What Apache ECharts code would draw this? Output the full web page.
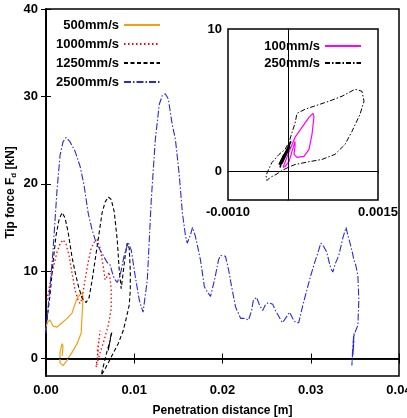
<!DOCTYPE html>
<html><head><meta charset="utf-8">
<script src="https://cdn.jsdelivr.net/npm/echarts@6/dist/echarts.min.js"></script>
<style>html,body{margin:0;padding:0;background:#fff}#c{width:407px;height:418px}</style>
</head><body><div id="c"></div>
<script>
// Tick values
const xTicks = [0, 0.01, 0.02, 0.03, 0.04];
const yTicks = [0, 10, 20, 30, 40];
const insetXTicks = [-0.001, 0.0015];
const insetYTicks = [0, 10];

// Main plot series: [penetration distance (m), tip force (kN)]
const s500 = [[0.00000,3.2],[0.00011,4.1],[0.00045,4.4],[0.00080,3.7],[0.00125,3.6],[0.00182,4.1],[0.00239,4.6],[0.00295,5.2],[0.00330,6.3],[0.00364,7.1],[0.00409,7.5],[0.00420,7.0],[0.00409,4.9],[0.00398,2.9],[0.00352,1.7],[0.00295,0.7],[0.00239,-0.2],[0.00193,-0.8],[0.00159,-0.5],[0.00159,0.7],[0.00182,1.7],[0.00193,1.4],[0.00182,0.3]];

const s1000 = [[0.00011,6.7],[0.00045,8.6],[0.00080,10.3],[0.00125,12.2],[0.00159,13.1],[0.00193,13.6],[0.00227,13.1],[0.00261,11.8],[0.00295,9.8],[0.00330,7.8],[0.00364,6.7],[0.00386,6.3],[0.00409,6.9],[0.00443,9.0],[0.00477,11.0],[0.00511,12.6],[0.00545,13.3],[0.00580,13.6],[0.00614,12.6],[0.00648,10.6],[0.00670,9.0],[0.00693,9.4],[0.00716,9.9],[0.00739,8.0],[0.00739,5.7],[0.00705,3.8],[0.00659,2.1],[0.00614,0.7],[0.00580,-0.5],[0.00568,-1.0],[0.00591,0.9],[0.00580,0.0],[0.00602,2.3],[0.00580,0.7],[0.00614,3.2]];

const s1250 = [[0.00011,4.4],[0.00045,7.2],[0.00080,11.0],[0.00114,14.1],[0.00148,15.9],[0.00182,16.7],[0.00216,16.1],[0.00250,14.5],[0.00295,11.6],[0.00330,9.9],[0.00364,8.4],[0.00409,6.9],[0.00455,6.4],[0.00489,7.0],[0.00523,9.0],[0.00557,11.3],[0.00591,13.6],[0.00636,16.7],[0.00670,17.9],[0.00705,18.5],[0.00739,18.2],[0.00773,16.8],[0.00807,13.6],[0.00830,10.1],[0.00852,8.0],[0.00875,9.9],[0.00898,11.8],[0.00920,13.2],[0.00943,12.6],[0.00955,10.1],[0.00955,7.8],[0.00943,6.1],[0.00909,4.6],[0.00875,3.2],[0.00818,1.7],[0.00761,0.6],[0.00705,-0.5],[0.00659,-1.4],[0.00625,-1.9],[0.00659,-0.5],[0.00693,0.9],[0.00727,2.1],[0.00705,0.9],[0.00739,2.9],[0.00716,1.5],[0.00750,3.2]];

const s2500 = [[0.00000,2.9],[0.00011,4.4],[0.00045,8.2],[0.00080,12.4],[0.00125,19.3],[0.00160,23.3],[0.00193,24.8],[0.00227,25.3],[0.00273,24.8],[0.00330,23.7],[0.00386,22.0],[0.00430,19.9],[0.00477,16.7],[0.00523,14.7],[0.00557,13.6],[0.00614,12.4],[0.00648,11.8],[0.00693,11.0],[0.00727,10.7],[0.00760,9.5],[0.00784,9.0],[0.00807,8.7],[0.00840,9.5],[0.00886,11.8],[0.00932,13.3],[0.00966,12.4],[0.01010,9.5],[0.01057,6.7],[0.01100,5.3],[0.01148,9.0],[0.01193,18.2],[0.01239,25.1],[0.01284,29.1],[0.01318,30.1],[0.01352,30.3],[0.01386,29.7],[0.01430,26.8],[0.01466,25.1],[0.01510,21.0],[0.01545,16.7],[0.01580,14.1],[0.01600,13.2],[0.01636,14.1],[0.01660,15.0],[0.01690,14.1],[0.01727,12.4],[0.01750,11.3],[0.01795,8.2],[0.01830,7.6],[0.01864,7.1],[0.01910,9.0],[0.01955,11.3],[0.01977,11.8],[0.02034,11.7],[0.02070,10.1],[0.02100,8.4],[0.02148,5.9],[0.02205,4.6],[0.02250,4.6],[0.02295,4.4],[0.02330,5.5],[0.02350,6.7],[0.02386,7.0],[0.02420,6.1],[0.02455,5.5],[0.02490,6.2],[0.02520,6.4],[0.02570,6.2],[0.02600,5.5],[0.02650,4.6],[0.02680,4.1],[0.02727,4.8],[0.02760,5.3],[0.02795,4.6],[0.02830,4.1],[0.02864,4.1],[0.02910,6.1],[0.02955,7.8],[0.03000,9.5],[0.03045,11.0],[0.03090,12.4],[0.03114,13.2],[0.03148,12.8],[0.03180,12.2],[0.03227,10.3],[0.03250,9.9],[0.03284,11.0],[0.03318,11.8],[0.03364,13.8],[0.03400,15.0],[0.03420,14.1],[0.03443,13.3],[0.03466,12.4],[0.03489,11.3],[0.03510,10.7],[0.03534,9.5],[0.03545,6.7],[0.03534,3.8],[0.03510,3.2],[0.03490,2.6],[0.03477,0.9],[0.03466,-0.8],[0.03477,1.5],[0.03490,2.9],[0.03477,0.3],[0.03490,2.1]];

// Inset series
const s100 = [[-0.000083,0.28],[-0.000067,0.35],[0.000033,1.55],[0.000117,2.39],[0.000233,3.1],[0.00035,3.8],[0.000417,4.08],[0.000433,3.87],[0.0004,2.6],[0.00035,1.55],[0.000267,1.06],[0.00015,0.99],[0.0001,1.2],[0.000117,1.76],[0.000117,2.11],[0.000067,1.41],[0.000017,0.7],[-0.00005,0.35],[-0.000083,0.28]];
const s250 = [[0,0.28],[-0.0001,0.07],[-0.0002,-0.21],[-0.0003,-0.42],[-0.00035,-0.63],[-0.000367,-0.28],[-0.000317,0.21],[-0.000267,0.63],[-0.00015,1.2],[-0.00005,1.55],[0.000017,2.04],[0.000067,2.75],[0.000117,3.38],[0.00015,4.08],[0.000283,4.37],[0.000433,4.58],[0.000683,4.93],[0.0009,5.28],[0.001117,5.77],[0.001233,5.63],[0.001267,4.93],[0.0012,4.01],[0.001067,2.82],[0.00095,1.9],[0.000783,1.2],[0.000567,0.85],[0.000283,0.63],[0.000117,0.49],[0,0.28]];
const s250dense = [[-0.000133,0.28],[-0.000067,1.2],[-0.00015,0.49],[-0.000017,1.55],[-0.000117,0.7],[0.00005,2.11],[-0.00005,1.2],[0.000033,1.76],[-0.0001,0.56],[0.000017,1.9]];

const FONT = 'Liberation Sans';
const lbl = {color:'#000', fontFamily:FONT, fontWeight:'bold', fontSize:13};
const axLine = {show:true, lineStyle:{color:'#000', width:1.5}};

function line(name, data, color, type, xi, yi, width){
  return {name, type:'line', data, xAxisIndex:xi, yAxisIndex:yi, symbol:'none', showSymbol:false,
    smooth:false, animation:false, z:3,
    lineStyle:{color, type, width: width||1}, itemStyle:{color}};
}

const chart = echarts.init(document.getElementById('c'), null, {renderer:'canvas'});
const series = [
  line('500mm/s', s500, '#f0a010', 'solid', 0, 0, 1.2),
  line('1000mm/s', s1000, '#ff0000', [1.5, 2.5], 0, 0, 1.3),
  line('1250mm/s', s1250, '#000000', [4, 2.5], 0, 0, 1.1),
  line('2500mm/s', s2500, '#2a2ad8', [7, 2, 1.5, 2], 0, 0, 1.1),
  line('100mm/s', s100, '#ff00ff', 'solid', 2, 2, 1.2),
  line('250mm/s', s250, '#000000', [5, 2, 1.5, 2], 2, 2, 1),
  line('250dense', s250dense, '#000000', 'solid', 2, 2, 1.6)
];
series[3].markLine = {silent:true, symbol:'none', animation:false, label:{show:false},
  lineStyle:{color:'#000', type:'solid', width:1}, data:[{yAxis:0}]};
series[4].markLine = {silent:true, symbol:'none', animation:false, label:{show:false},
  lineStyle:{color:'#000', type:'solid', width:1}, data:[{yAxis:0},{xAxis:0}]};

const legendCommon = {orient:'vertical', align:'right', itemWidth:36, itemHeight:14,
  textStyle:Object.assign({lineHeight:14}, lbl), selectedMode:false,
  itemStyle:{opacity:0}};

chart.setOption({
  animation:false,
  backgroundColor:'#fff',
  grid:[
    {left:46, right:8, top:9, bottom:42, show:true, borderColor:'#000', borderWidth:1.5, outerBoundsMode:'none', containLabel:false},
    {left:228, top:29, width:150, height:171, show:true, borderColor:'#000', borderWidth:1.5, backgroundColor:'#fff', z:1, outerBoundsMode:'none', containLabel:false}
  ],
  legend:[
    Object.assign({data:['500mm/s','1000mm/s','1250mm/s','2500mm/s'], right:241, top:13, itemGap:5}, legendCommon),
    Object.assign({data:['100mm/s','250mm/s'], right:40, top:34, itemGap:3}, legendCommon)
  ],
  xAxis:[
    {gridIndex:0, type:'value', min:0, max:0.04, interval:0.01, position:'bottom',
     axisLine:axLine, axisTick:{show:true, inside:true, length:5, lineStyle:{color:'#000'}},
     axisLabel:Object.assign({margin:8, formatter:v=>v.toFixed(2), showMaxLabel:true, showMinLabel:true}, lbl),
     splitLine:{show:false},
     name:'Penetration distance [m]', nameLocation:'middle', nameGap:29, nameMoveOverlap:false,
     nameTextStyle:{color:'#000', fontFamily:FONT, fontWeight:'bold', fontSize:12}},
    {gridIndex:0, type:'value', min:0, max:0.04, interval:0.01, position:'top',
     axisLine:axLine, axisTick:{show:true, inside:true, length:5, lineStyle:{color:'#000'}},
     axisLabel:{show:false}, splitLine:{show:false}},
    {gridIndex:1, type:'value', min:-0.001, max:0.0015, position:'bottom',
     axisLine:axLine, axisTick:{show:false},
     axisLabel:Object.assign({margin:6, customValues:insetXTicks, formatter:v=>v.toFixed(4)}, lbl),
     splitLine:{show:false}}
  ],
  yAxis:[
    {gridIndex:0, type:'value', min:-2, max:40, position:'left',
     axisLine:axLine, axisTick:{show:true, inside:true, length:5, customValues:yTicks, lineStyle:{color:'#000'}},
     axisLabel:Object.assign({margin:8, customValues:yTicks}, lbl), splitLine:{show:false},
     name:'{a|Tip force F}{s|d}{a| [kN]}', nameLocation:'middle', nameGap:28, nameMoveOverlap:false,
     nameTextStyle:{rich:{
       a:{color:'#000', fontFamily:FONT, fontWeight:'bold', fontSize:12},
       s:{color:'#000', fontFamily:FONT, fontWeight:'bold', fontSize:8, padding:[6,0,0,0]}
     }}},
    {gridIndex:0, type:'value', min:-2, max:40, position:'right',
     axisLine:axLine, axisTick:{show:true, inside:true, length:5, customValues:yTicks, lineStyle:{color:'#000'}},
     axisLabel:{show:false}, splitLine:{show:false}},
    {gridIndex:1, type:'value', min:-2, max:10, position:'left',
     axisLine:axLine, axisTick:{show:false},
     axisLabel:Object.assign({margin:6, customValues:insetYTicks}, lbl), splitLine:{show:false}}
  ],
  series
});
</script>
</body></html>
